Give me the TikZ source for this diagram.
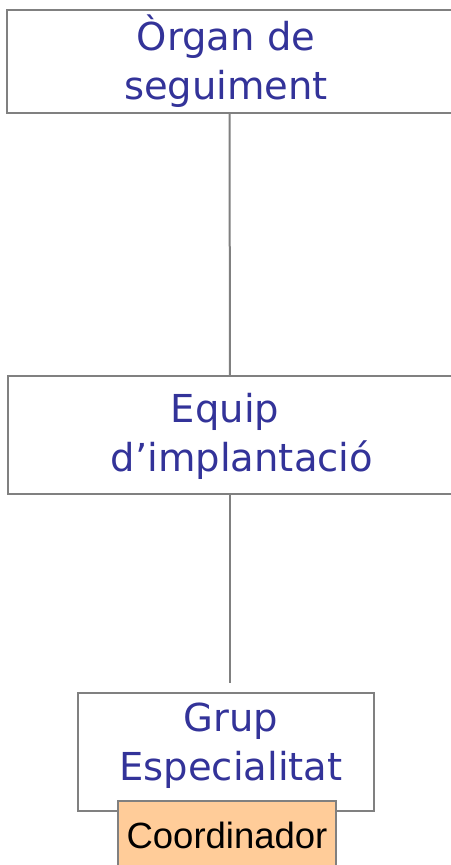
\documentclass[tikz,border=0pt]{standalone}
\usepackage{fontspec}
\setmainfont{DejaVu Sans}
\newfontfamily\coordfont{Liberation Sans}
\definecolor{orgblue}{RGB}{51,51,153}
\definecolor{orgline}{RGB}{128,128,128}
\definecolor{orgfill}{RGB}{255,204,153}
\begin{document}
\begin{tikzpicture}[x=1pt,y=-1pt,
    box/.style={draw=orgline,line width=2pt,fill=white,inner sep=0pt},
    lbl/.style={text=orgblue,align=center,inner sep=0pt,
      font=\fontsize{38.5}{49}\selectfont}]
      \useasboundingbox (0,0) rectangle (450,865);
      \node[box,minimum width=445pt,minimum height=103pt] (org) at (229.5,61.5) {};
      \node[box,minimum width=444pt,minimum height=118pt] (equip) at (230,435) {};
      \node[box,minimum width=296pt,minimum height=118pt] (grup) at (226,752) {};
      \node[box,fill=orgfill,minimum width=218pt,minimum height=69pt,
        font=\coordfont\fontsize{36.5}{40}\selectfont] (coord) at (227,835.5) {Coordinador};
      \coordinate (gap) at (230,683);
      \node[lbl] (orgtext) at (226,61.5) {Òrgan de\\seguiment};
      \node[lbl] (equiptext) at (242,436) {Equip\hspace*{34pt}\\d’implantació};
      \node[lbl] (gruptext) at (231,745.5) {Grup\\Especialitat};
      \begin{scope}[draw=orgline,line width=2pt]
        \draw (org) to (equip);
        \draw (equip) to (gap);
      \end{scope}
    \end{tikzpicture}
\end{document}
